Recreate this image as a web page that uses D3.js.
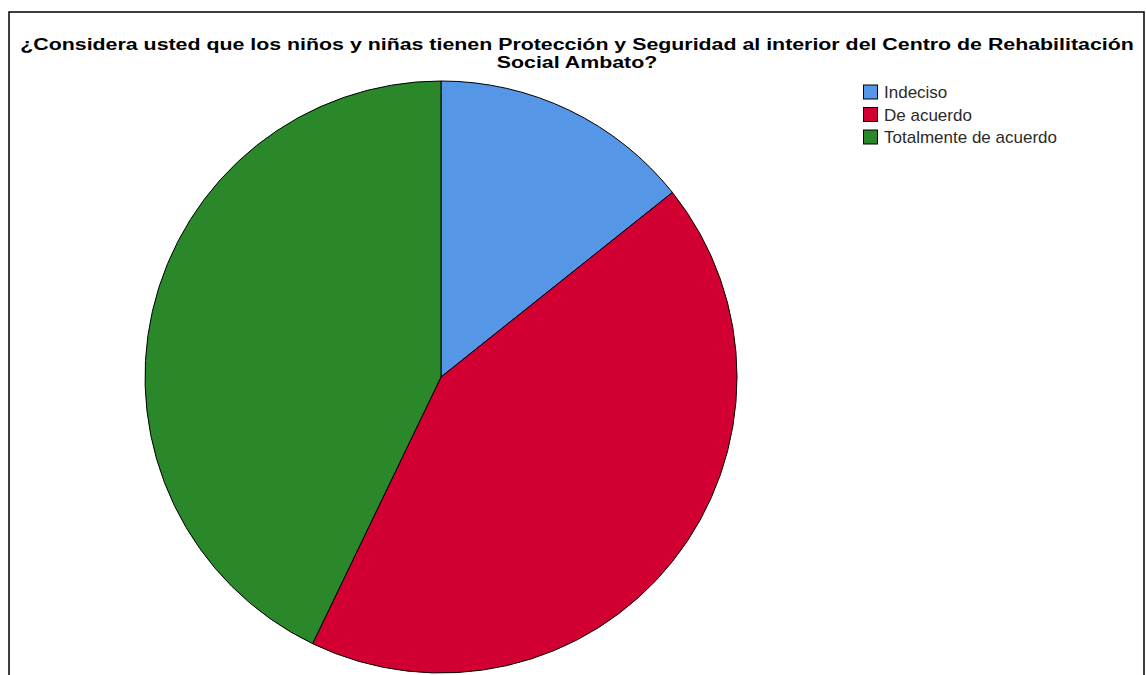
<!DOCTYPE html>
<html><head><meta charset="utf-8">
<script src="https://cdn.jsdelivr.net/npm/d3@7"></script>
<style>body{margin:0;background:#fff}</style>
</head><body>
<svg id="c" width="1146" height="675"></svg>
<script>
const categories = ["Indeciso", "De acuerdo", "Totalmente de acuerdo"];
const values = [1, 3, 3];
const colors = ["#5596E6", "#D20032", "#2A882A"];
const titleLines = ["¿Considera usted que los niños y niñas tienen Protección y Seguridad al interior del Centro de Rehabilitación", "Social Ambato?"];

const svg = d3.select("#c");
// frame
svg.append("path").attr("d", "M9,680 L9,12 L1144,12 L1144,680")
  .attr("fill", "none").attr("stroke", "#000").attr("stroke-width", 1.5);

// title, horizontally stretched like the reference rendering
const tg = svg.append("g").attr("transform", "translate(577,0) scale(1.334,1)");
titleLines.forEach((t, i) => tg.append("text").attr("text-anchor", "middle")
  .attr("x", 0).attr("y", 50 + i * 18)
  .attr("font-family", "Liberation Sans, Arial, sans-serif").attr("font-weight", "bold")
  .attr("font-size", 16).attr("fill", "#000").text(t));

const cx = 441, cy = 377, r = 296;
const pie = d3.pie().sort(null).value(d => d)(values);
const arc = d3.arc().innerRadius(0).outerRadius(r);
svg.append("g").attr("transform", `translate(${cx},${cy})`)
  .selectAll("path").data(pie).join("path")
  .attr("d", arc).attr("fill", (d, i) => colors[i])
  .attr("stroke", "#000").attr("stroke-width", 1);

const leg = svg.append("g");
categories.forEach((c, i) => {
  const y = 85 + i * 22.5;
  leg.append("rect").attr("x", 863.5).attr("y", y).attr("width", 14).attr("height", 14)
    .attr("fill", colors[i]).attr("stroke", "#000").attr("stroke-width", 1);
  leg.append("text").attr("x", 884).attr("y", y + 13)
    .attr("font-family", "Liberation Sans, Arial, sans-serif").attr("font-size", 17)
    .attr("fill", "#2b2b2b").text(c);
});
</script>
</body></html>
